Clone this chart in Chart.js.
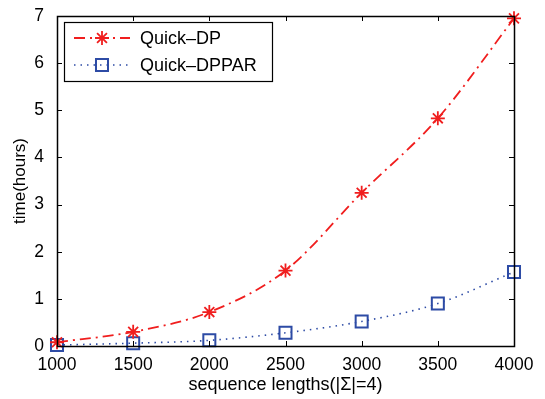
<!DOCTYPE html>
<html>
<head>
<meta charset="utf-8">
<script src="https://cdn.jsdelivr.net/npm/chart.js@4/dist/chart.umd.min.js"></script>
<style>
  html, body { margin: 0; padding: 0; background: #fff; }
  #wrap { width: 545px; height: 399px; }
</style>
</head>
<body>
<div id="wrap"><canvas id="chart" width="545" height="399"></canvas></div>
<script>
// sequence lengths on x, hours on y
const lengths = [1000, 1500, 2000, 2500, 3000, 3500, 4000];
const quickDP = [0.08, 0.3, 0.72, 1.6, 3.25, 4.83, 6.95];
const quickDPPAR = [0.02, 0.06, 0.12, 0.28, 0.52, 0.9, 1.57];
const xTicks = [1000, 1500, 2000, 2500, 3000, 3500, 4000];
const yTicks = [0, 1, 2, 3, 4, 5, 6, 7];

const RED = 'rgb(240,30,30)';
const BLUE = 'rgb(45,75,165)';
const FONT = '"Liberation Sans", Arial, Helvetica, sans-serif';

// matlab style box with inward ticks on all four sides
const boxPlugin = {
    id: 'box',
    afterDraw(chart) {
        const { ctx, chartArea: a, scales } = chart;
        ctx.save();
        ctx.strokeStyle = '#000';
        ctx.lineWidth = 1;
        ctx.setLineDash([]);
        const tl = 5;
        ctx.beginPath();
        xTicks.forEach(v => {
            const px = Math.round(scales.x.getPixelForValue(v)) + 0.5;
            ctx.moveTo(px, a.bottom); ctx.lineTo(px, a.bottom - tl);
            ctx.moveTo(px, a.top); ctx.lineTo(px, a.top + tl);
        });
        yTicks.forEach(v => {
            const py = Math.round(scales.y.getPixelForValue(v)) + 0.5;
            ctx.moveTo(a.left, py); ctx.lineTo(a.left + tl, py);
            ctx.moveTo(a.right, py); ctx.lineTo(a.right - tl, py);
        });
        ctx.stroke();
        ctx.lineWidth = 1.5;
        ctx.strokeRect(Math.round(a.left) + 0.5, Math.round(a.top) + 0.5,
            Math.round(a.right - a.left), Math.round(a.bottom - a.top));
        ctx.restore();
    }
};

// legend box in the upper left corner
const legendPlugin = {
    id: 'boxLegend',
    afterDraw(chart) {
        const { ctx, chartArea: a } = chart;
        const x0 = a.left + 7, y0 = a.top + 6, w = 208, h = 59;
        ctx.save();
        ctx.fillStyle = '#fff';
        ctx.fillRect(x0, y0, w, h);
        ctx.strokeStyle = '#000';
        ctx.lineWidth = 1.2;
        ctx.strokeRect(x0 + 0.5, y0 + 0.5, w, h);
        ctx.font = '18px ' + FONT;
        ctx.textBaseline = 'middle';
        chart.data.datasets.forEach((ds, i) => {
            const cy = y0 + 16 + i * 27;
            ctx.strokeStyle = ds.borderColor;
            ctx.lineWidth = ds.borderWidth;
            ctx.setLineDash(ds.borderDash);
            ctx.beginPath();
            ctx.moveTo(x0 + 10, cy); ctx.lineTo(x0 + 66, cy);
            ctx.stroke();
            ctx.setLineDash([]);
            ctx.strokeStyle = ds.pointBorderColor;
            ctx.fillStyle = ds.pointBackgroundColor;
            ctx.lineWidth = ds.pointBorderWidth;
            Chart.helpers.drawPoint(ctx, {
                pointStyle: ds.pointStyle,
                radius: ds.pointRadius,
                borderWidth: ds.pointBorderWidth,
                rotation: 0
            }, x0 + 38, cy);
            ctx.fillStyle = '#000';
            ctx.fillText(ds.label, x0 + 76, cy + 1);
        });
        ctx.restore();
    }
};

const ctx = document.getElementById('chart').getContext('2d');
new Chart(ctx, {
    type: 'line',
    data: {
        datasets: [{
            label: 'Quick\u2013DP',
            data: lengths.map((x, i) => ({ x, y: quickDP[i] })),
            borderColor: RED,
            backgroundColor: 'rgba(0,0,0,0)',
            borderWidth: 1.8,
            borderDash: [11, 5, 2, 5],
            pointStyle: 'star',
            pointRadius: 7,
            pointBorderWidth: 1.8,
            pointBorderColor: RED,
            pointBackgroundColor: RED,
            tension: 0.4,
            cubicInterpolationMode: 'monotone'
        }, {
            label: 'Quick\u2013DPPAR',
            data: lengths.map((x, i) => ({ x, y: quickDPPAR[i] })),
            borderColor: BLUE,
            backgroundColor: 'rgba(0,0,0,0)',
            borderWidth: 1.6,
            borderDash: [1.5, 5],
            pointStyle: 'rect',
            pointRadius: 8.5,
            pointBorderWidth: 2,
            pointBorderColor: BLUE,
            pointBackgroundColor: 'rgba(0,0,0,0)',
            tension: 0.4,
            cubicInterpolationMode: 'monotone'
        }]
    },
    options: {
        responsive: false,
        animation: false,
        clip: false,
        layout: { padding: { top: 16, right: 31, left: 0, bottom: 0 } },
        plugins: { legend: { display: false }, tooltip: { enabled: false } },
        scales: {
            x: {
                type: 'linear',
                min: 1000, max: 4000,
                afterBuildTicks: s => { s.ticks = xTicks.map(v => ({ value: v })); },
                afterFit: s => { s.height = 53; },
                grid: { display: false },
                border: { display: false },
                ticks: { color: '#000', font: { family: FONT, size: 17.5 }, padding: 1, maxRotation: 0,
                    callback: v => String(v) },
                title: { display: true, text: 'sequence lengths(|\u03A3|=4)', color: '#000',
                    font: { family: FONT, size: 18 }, padding: { top: 0, bottom: 3 } }
            },
            y: {
                min: 0, max: 7,
                afterBuildTicks: s => { s.ticks = yTicks.map(v => ({ value: v })); },
                afterFit: s => { s.width = 57; },
                grid: { display: false },
                border: { display: false },
                ticks: { color: '#000', font: { family: FONT, size: 17.5 }, padding: 5,
                    callback: v => String(v) },
                title: { display: true, text: 'time(hours)', color: '#000',
                    font: { family: FONT, size: 17 }, padding: { top: 10, bottom: 0 } }
            }
        }
    },
    plugins: [boxPlugin, legendPlugin]
});
</script>
</body>
</html>
